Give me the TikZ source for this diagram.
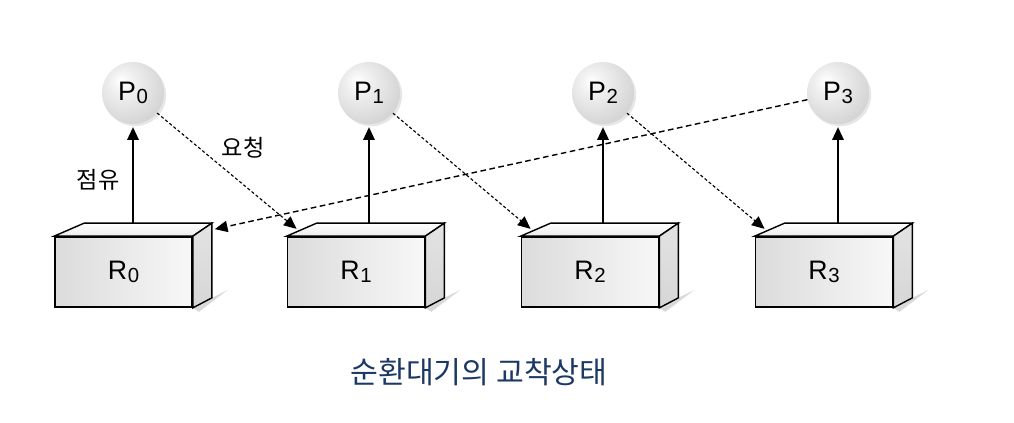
\documentclass[tikz,border=0pt]{standalone}
\usepackage{fontspec}
\setmainfont{Liberation Sans}
\newfontfamily\krfont{Noto Sans CJK KR}
\usetikzlibrary{arrows.meta,calc,positioning,shadows,backgrounds}
\definecolor{captionblue}{RGB}{28,56,100}
\pgfdeclareradialshading{procball}{\pgfpoint{-10bp}{10bp}}{color(0bp)=(white); color(10bp)=(gray!12); color(30bp)=(gray!32); color(48bp)=(gray!50); color(70bp)=(gray!58)}
\newcommand\idx[1]{\kern0.5pt\raisebox{-1.8pt}{\fontsize{14.5}{14.5}\selectfont #1}}

\begin{document}
\begin{tikzpicture}[x=0.025cm, y=-0.025cm,
    process/.style={circle, minimum size=1.55cm, inner sep=0pt, shade, shading=procball,
      drop shadow={shadow xshift=1.5pt, shadow yshift=-1.5pt, opacity=0.2},
      font=\fontsize{19}{21}\selectfont},
    resource/.style={draw, line width=1.2pt, minimum width=3.425cm, minimum height=1.75cm,
      inner sep=0pt, left color=gray!28, right color=gray!6, font=\fontsize{19}{21}\selectfont},
    hold/.style={line width=1.4pt, shorten >=2pt, -{Triangle[length=9pt,width=8pt]}},
    request/.style={line width=0.8pt, dash pattern=on 2.2pt off 1.6pt, -{Triangle[length=9pt,width=8pt]}},
    waitfor/.style={line width=1pt, dash pattern=on 4pt off 2.5pt, -{Triangle[length=9pt,width=8pt]}},
    krlabel/.style={font=\krfont\fontsize{16.5}{18}\selectfont}]
  \useasboundingbox (0,0) rectangle (1014,422);
  % resources
  \node[resource] (R0) at (123.5,272) {R\idx{0}};
  \node[resource] (R1) at (356,272) {R\idx{1}};
  \node[resource] (R2) at (590,272) {R\idx{2}};
  \node[resource] (R3) at (824,272) {R\idx{3}};
  % box top, side and shadow
  \foreach \r in {R0,R1,R2,R3}{
    \coordinate (\r-tl) at ($(\r.north west)+(30,-13)$);
    \coordinate (\r-tr) at ($(\r.north east)+(19,-13)$);
    \coordinate (\r-br) at ($(\r.south east)+(19,-10)$);
    \draw[line width=1pt, top color=white, bottom color=gray!15]
      (\r.north west) -- (\r-tl) -- (\r-tr) -- (\r.north east) -- cycle;
    \draw[line width=1pt, top color=gray!22, bottom color=gray!32]
      (\r.north east) -- (\r-tr) -- (\r-br) -- (\r.south east) -- cycle;
    \begin{scope}[on background layer]
      \fill[gray!30] (\r.south east) -- (\r-br) -- ($(\r-br)+(16,-8)$) -- ($(\r.south east)+(6,4)$) -- cycle;
    \end{scope}
  }
  % processes
  \node[process] (P0) at (133,93) {P\idx{0}};
  \node[process] (P1) at (369,93) {P\idx{1}};
  \node[process] (P2) at (603,93) {P\idx{2}};
  \node[process] (P3) at (838,93) {P\idx{3}};
  % held resources
  \draw[hold] (P0 |- R0-tl) -- (P0);
  \draw[hold] (P1 |- R1-tl) -- (P1);
  \draw[hold] (P2 |- R2-tl) -- (P2);
  \draw[hold] (P3 |- R3-tl) -- (P3);
  % requests
  \coordinate (R1-in) at ($(R1.north west)!0.33!(R1-tl)+(0,-3)$);
  \coordinate (R2-in) at ($(R2.north west)!0.33!(R2-tl)+(0,-3)$);
  \coordinate (R3-in) at ($(R3.north west)!0.33!(R3-tl)+(0,-3)$);
  \coordinate (R0-in) at ($(R0-tr)+(3,6)$);
  \draw[request] (P0) -- (R1-in);
  \draw[request] (P1) -- (R2-in);
  \draw[request] (P2) -- (R3-in);
  \draw[waitfor] (P3) -- (R0-in);
  % labels
  \node[krlabel] (hold label) at (98,180) {점유};
  \node[krlabel] (request label) at (243,148) {요청};
  \node[font=\krfont\fontsize{21.5}{24}\selectfont, text=captionblue] (caption) at (479,372) {순환대기의 교착상태};
\end{tikzpicture}
\end{document}
